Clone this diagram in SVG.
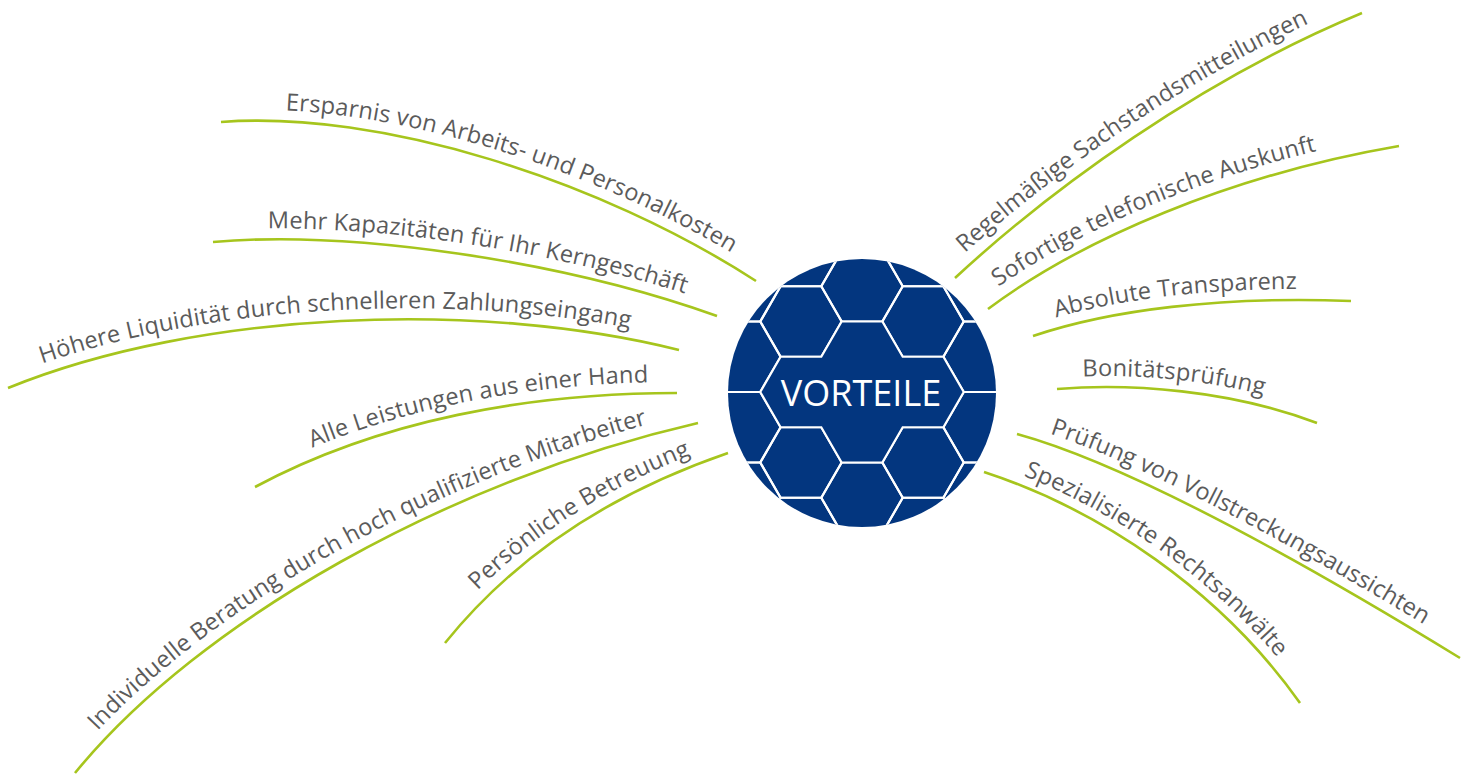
<svg xmlns="http://www.w3.org/2000/svg" xmlns:xlink="http://www.w3.org/1999/xlink" width="1463" height="784" viewBox="0 0 1463 784">
<style>
.br{fill:none;stroke:#a6c51d;stroke-width:2.6;stroke-linecap:butt}
.lb{font-family:"Open Sans","Noto Sans","Liberation Sans",sans-serif;font-size:23.6px;fill:#5b5b5b}
.hx{fill:none;stroke:#ffffff;stroke-width:2.2;stroke-linejoin:miter}
.ctr{font-family:"Open Sans","Noto Sans","Liberation Sans",sans-serif;font-size:36px;fill:#ffffff}
</style>
<defs>
<polygon id="hx" points="40.7,0 20.35,35.25 -20.35,35.25 -40.7,0 -20.35,-35.25 20.35,-35.25"/>
<clipPath id="cc"><circle cx="862" cy="393" r="134"/></clipPath>
<path id="p1" d="M221,122 C380,110 600,180 756,281"/>
<path id="p2" d="M213,242 C350,230 560,260 717,316"/>
<path id="p3" d="M8,388 C200,310 480,300 679,350"/>
<path id="p4" d="M255,487 C380,420 530,393 677,393"/>
<path id="p5" d="M75,773 C200,620 450,480 698,423"/>
<path id="p6" d="M445,643 C520,550 620,490 728,453"/>
<path id="p7" d="M955,278 C1050,190 1200,80 1362,13"/>
<path id="p8" d="M988,309 C1080,240 1230,175 1399,146"/>
<path id="p9" d="M1033,336 C1110,310 1220,296 1351,301"/>
<path id="p10" d="M1057,389 C1130,383 1230,390 1317,423"/>
<path id="p11" d="M1017,434 C1130,465 1300,560 1460,658"/>
<path id="p12" d="M984,472 C1100,510 1220,590 1300,703"/>
</defs>
<g id="connectors">
<use xlink:href="#p1" href="#p1" class="br"/>
<use xlink:href="#p2" href="#p2" class="br"/>
<use xlink:href="#p3" href="#p3" class="br"/>
<use xlink:href="#p4" href="#p4" class="br"/>
<use xlink:href="#p5" href="#p5" class="br"/>
<use xlink:href="#p6" href="#p6" class="br"/>
<use xlink:href="#p7" href="#p7" class="br"/>
<use xlink:href="#p8" href="#p8" class="br"/>
<use xlink:href="#p9" href="#p9" class="br"/>
<use xlink:href="#p10" href="#p10" class="br"/>
<use xlink:href="#p11" href="#p11" class="br"/>
<use xlink:href="#p12" href="#p12" class="br"/>
</g>
<g id="center">
<circle cx="862" cy="393" r="134" fill="#03367f"/>
<g clip-path="url(#cc)" class="hx">
<use href="#hx" x="862" y="286.25"/>
<use href="#hx" x="862" y="497.75"/>
<use href="#hx" x="800.95" y="251"/>
<use href="#hx" x="800.95" y="321.5"/>
<use href="#hx" x="800.95" y="462.5"/>
<use href="#hx" x="800.95" y="533"/>
<use href="#hx" x="923.05" y="251"/>
<use href="#hx" x="923.05" y="321.5"/>
<use href="#hx" x="923.05" y="462.5"/>
<use href="#hx" x="923.05" y="533"/>
<use href="#hx" x="739.9" y="286.25"/>
<use href="#hx" x="739.9" y="356.75"/>
<use href="#hx" x="739.9" y="427.25"/>
<use href="#hx" x="739.9" y="497.75"/>
<use href="#hx" x="984.1" y="286.25"/>
<use href="#hx" x="984.1" y="356.75"/>
<use href="#hx" x="984.1" y="427.25"/>
<use href="#hx" x="984.1" y="497.75"/>
<polygon fill="#03367f" points="760.25,392 780.6,356.75 821.3,356.75 841.65,321.5 882.35,321.5 902.7,356.75 943.4,356.75 963.75,392 943.4,427.25 902.7,427.25 882.35,462.5 841.65,462.5 821.3,427.25 780.6,427.25"/>
</g>
<text class="ctr" x="861" y="406" text-anchor="middle">VORTEILE</text>
</g>
<g id="n1"><text class="lb" dy="-11"><textPath href="#p1" startOffset="64">Ersparnis von Arbeits- und Personalkosten</textPath></text></g>
<g id="n2"><text class="lb" dy="-11"><textPath href="#p2" startOffset="55">Mehr Kapazitäten für Ihr Kerngeschäft</textPath></text></g>
<g id="n3"><text class="lb" dy="-11"><textPath href="#p3" startOffset="40">Höhere Liquidität durch schnelleren Zahlungseingang</textPath></text></g>
<g id="n4"><text class="lb" dy="-11"><textPath href="#p4" startOffset="68">Alle Leistungen aus einer Hand</textPath></text></g>
<g id="n5"><text class="lb" dy="-11"><textPath href="#p5" startOffset="46">Individuelle Beratung durch hoch qualifizierte Mitarbeiter</textPath></text></g>
<g id="n6"><text class="lb" dy="-11"><textPath href="#p6" startOffset="60">Persönliche Betreuung</textPath></text></g>
<g id="n7"><text class="lb" dy="-12"><textPath href="#p7" startOffset="24">Regelmäßige Sachstandsmitteilungen</textPath></text></g>
<g id="n8"><text class="lb" dy="-12"><textPath href="#p8" startOffset="21">Sofortige telefonische Auskunft</textPath></text></g>
<g id="n9"><text class="lb" dy="-11"><textPath href="#p9" startOffset="27">Absolute Transparenz</textPath></text></g>
<g id="n10"><text class="lb" dy="-11"><textPath href="#p10" startOffset="26">Bonitätsprüfung</textPath></text></g>
<g id="n11"><text class="lb" dy="-10"><textPath href="#p11" startOffset="31">Prüfung von Vollstreckungsaussichten</textPath></text></g>
<g id="n12"><text class="lb" dy="-10"><textPath href="#p12" startOffset="38">Spezialisierte Rechtsanwälte</textPath></text></g>
</svg>
